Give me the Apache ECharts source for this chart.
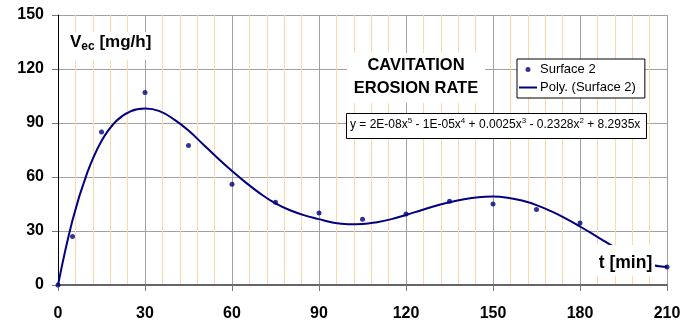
<!DOCTYPE html>
<html>
<head>
<meta charset="utf-8">
<script src="https://cdn.jsdelivr.net/npm/echarts@6/dist/echarts.min.js"></script>
<style>
  html, body { margin: 0; padding: 0; background: #fff; }
  #chart { width: 686px; height: 327px; }
</style>
</head>
<body>
<div id="chart"></div>
<script>
const FONT = '"Liberation Sans", Arial, sans-serif';

// measured points (Surface 2)
const timeMin = [0, 5, 15, 30, 45, 60, 75, 90, 105, 120, 135, 150, 165, 180, 210];
const erosionRate = [0, 27, 85, 107, 77.5, 56, 46, 40, 36.5, 39.5, 46.5, 45, 42, 34.5, 10];

// polynomial trend line
const trendTime = [0, 5, 10, 15, 20, 25, 30, 35, 40, 45, 50, 55, 60, 65, 70, 75, 80, 85, 90, 95, 100, 105,
  110, 115, 120, 125, 130, 135, 140, 145, 150, 155, 160, 165, 170, 175, 180, 185, 190, 195, 200, 205, 208, 210];
const trendRate = [0, 36, 62, 80, 91, 96.5, 98, 96.6, 92, 85.8, 78.2, 70.6, 63.4, 56.6, 50.5, 45.3, 41.5, 38.7,
  36.6, 34.6, 33.8, 33.9, 34.9, 36.6, 38.9, 41.4, 43.9, 46, 47.7, 48.8, 49.1, 48.5, 46.9, 44.4, 41, 37, 32.5,
  27.7, 22.8, 17.8, 13.9, 11.1, 10.3, 10.2];

// axis ticks
const xTicks = [0, 30, 60, 90, 120, 150, 180, 210];
const yTicks = [0, 30, 60, 90, 120, 150];

const chart = echarts.init(document.getElementById('chart'));

const navy = '#000080';
const gridGrey = '#a0a0a0';
const minorOrange = '#ffd7a8';
const labelStyle = { color: '#000', fontFamily: FONT, fontWeight: 'bold', fontSize: 16 };

chart.setOption({
  animation: false,
  backgroundColor: '#fff',
  grid: { left: 58, right: 19, top: 15, bottom: 42 },
  xAxis: {
    type: 'value',
    min: xTicks[0],
    max: xTicks[xTicks.length - 1],
    interval: xTicks[1] - xTicks[0],
    axisLine: { show: true, onZero: false, lineStyle: { color: '#666', width: 2 } },
    axisTick: { show: true, length: 6, lineStyle: { color: '#777', width: 1 } },
    minorTick: { show: false, splitNumber: 5 },
    minorSplitLine: { show: true, lineStyle: { color: minorOrange, width: 1 } },
    splitLine: { show: true, lineStyle: { color: gridGrey, width: 1 } },
    axisLabel: Object.assign({ margin: 21 }, labelStyle)
  },
  yAxis: {
    type: 'value',
    min: yTicks[0],
    max: yTicks[yTicks.length - 1],
    interval: yTicks[1] - yTicks[0],
    axisLine: { show: true, onZero: false, lineStyle: { color: '#000', width: 1 } },
    axisTick: { show: true, length: 6, lineStyle: { color: '#777', width: 1 } },
    splitLine: { show: true, lineStyle: { color: gridGrey, width: 1 } },
    axisLabel: Object.assign({ margin: 14 }, labelStyle)
  },
  legend: {
    orient: 'vertical',
    left: 517,
    top: 59,
    data: [
      { name: 'Surface 2' },
      { name: 'Poly. (Surface 2)', icon: 'path://M0,0H18V2H0Z' }
    ],
    itemWidth: 18,
    itemHeight: 5,
    itemGap: 5,
    padding: [4, 9, 4, 2],
    backgroundColor: '#fff',
    borderColor: '#000',
    borderWidth: 1,
    borderRadius: 0,
    z: 20,
    textStyle: { color: '#000', fontFamily: FONT, fontSize: 13, padding: [0, 0, 0, -2] }
  },
  series: [
    {
      name: 'Poly. (Surface 2)',
      type: 'line',
      data: trendTime.map((t, i) => [t, trendRate[i]]),
      smooth: 0.4,
      symbol: 'none',
      lineStyle: { color: navy, width: 2 },
      itemStyle: { color: navy },
      z: 3
    },
    {
      name: 'Surface 2',
      type: 'scatter',
      data: timeMin.map((t, i) => [t, erosionRate[i]]),
      symbol: 'circle',
      symbolSize: 5,
      itemStyle: { color: navy },
      z: 4
    }
  ],
  graphic: [
    // y axis title
    { type: 'rect', left: 66, top: 32, z: 50, shape: { width: 92, height: 28 }, style: { fill: '#fff' } },
    {
      type: 'text', left: 70, top: 34, z: 51,
      style: {
        text: '{v|V}{s|ec}{v| [mg/h]}',
        rich: {
          v: { fontFamily: FONT, fontWeight: 'bold', fontSize: 17, fill: '#000', lineHeight: 20 },
          s: { fontFamily: FONT, fontWeight: 'bold', fontSize: 12, fill: '#000', verticalAlign: 'bottom', lineHeight: 20 }
        }
      }
    },
    // chart title
    { type: 'rect', left: 347, top: 53, z: 50, shape: { width: 138, height: 50 }, style: { fill: '#fff' } },
    {
      type: 'text', x: 416, y: 54, z: 51,
      style: {
        text: 'CAVITATION\nEROSION RATE',
        fill: '#000', font: 'bold 16.5px ' + FONT,
        align: 'center', verticalAlign: 'top', lineHeight: 23
      }
    },
    // equation box
    {
      type: 'rect', left: 346, top: 113, z: 50,
      shape: { width: 300, height: 25 },
      style: { fill: '#fff', stroke: '#000', lineWidth: 1 }
    },
    {
      type: 'text', x: 350, y: 117, z: 51,
      style: {
        text: '{n|y = 2E-08x}{p|5}{n| - 1E-05x}{p|4}{n| + 0.0025x}{p|3}{n| - 0.2328x}{p|2}{n| + 8.2935x}',
        rich: {
          n: { fontFamily: FONT, fontSize: 12, fill: '#000', lineHeight: 16 },
          p: { fontFamily: FONT, fontSize: 8, fill: '#000', verticalAlign: 'top', lineHeight: 16 }
        }
      }
    },
    // x axis title
    { type: 'rect', left: 595, top: 245, z: 50, shape: { width: 60, height: 31 }, style: { fill: '#fff' } },
    {
      type: 'text', x: 625.5, y: 263, z: 51,
      style: { text: 't [min]', fill: '#000', font: 'bold 17.5px ' + FONT, align: 'center', verticalAlign: 'middle' }
    }
  ]
});
</script>
</body>
</html>
